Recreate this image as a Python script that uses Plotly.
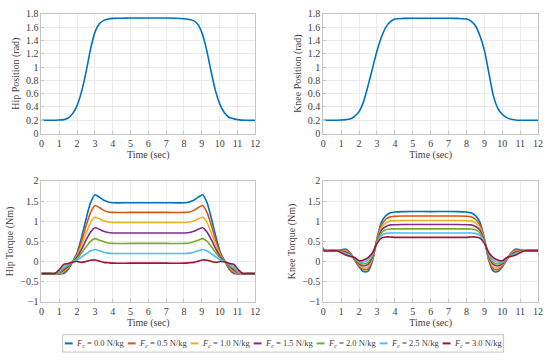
import plotly.graph_objects as go

# ---------------- data ----------------
t_pos = [0, 0.5, 1.0, 1.25, 1.5, 1.75, 2.0, 2.25, 2.5, 2.75, 3.0, 3.25, 3.5, 3.75, 4.0, 4.5, 5, 6, 7, 7.5,
         8.0, 8.25, 8.5, 8.75, 9.0, 9.25, 9.5, 9.75, 10.0, 10.25, 10.5, 10.75, 11.0, 11.5, 12]
hip_pos = [0.20, 0.20, 0.205, 0.21, 0.235, 0.30, 0.42, 0.63, 0.92, 1.26, 1.52, 1.65, 1.70, 1.72, 1.73, 1.733, 1.735, 1.735, 1.735, 1.733,
           1.725, 1.715, 1.70, 1.65, 1.52, 1.28, 0.96, 0.66, 0.45, 0.32, 0.25, 0.225, 0.21, 0.20, 0.20]
knee_pos = [0.20, 0.20, 0.205, 0.21, 0.22, 0.26, 0.33, 0.48, 0.72, 0.98, 1.24, 1.45, 1.60, 1.68, 1.72, 1.73, 1.733, 1.733, 1.733, 1.73,
            1.72, 1.69, 1.62, 1.47, 1.25, 0.91, 0.57, 0.38, 0.29, 0.24, 0.215, 0.205, 0.20, 0.20, 0.20]

force_labels = ["0.0", "0.5", "1.0", "1.5", "2.0", "2.5", "3.0"]
colors = ["#0072BD", "#D95319", "#EDB120", "#7E2F8E", "#77AC30", "#4DBEEE", "#A2142F"]

t_hip = [0, 0.5, 0.75, 1.0, 1.25, 1.5, 1.75, 2.0, 2.25, 2.5, 2.75, 3.0, 3.25, 3.5, 3.75, 4.0, 5.0, 6.0, 7.0,
         8.05, 8.3, 8.55, 8.8, 9.05, 9.3, 9.55, 9.8, 10.05, 10.3, 10.55, 10.8, 11.05, 11.3, 11.55, 12.0]
hip_torque = [
    [-0.30, -0.30, -0.30, -0.31, -0.30, -0.20, 0.00, 0.22, 0.60, 1.05, 1.45, 1.66, 1.60, 1.52, 1.48, 1.46, 1.46, 1.46, 1.46,
     1.46, 1.48, 1.52, 1.60, 1.66, 1.45, 1.05, 0.60, 0.22, 0.00, -0.20, -0.30, -0.31, -0.30, -0.30, -0.30],
    [-0.30, -0.30, -0.30, -0.30, -0.27, -0.17, 0.00, 0.18, 0.50, 0.88, 1.21, 1.39, 1.34, 1.27, 1.23, 1.22, 1.22, 1.22, 1.22,
     1.22, 1.23, 1.27, 1.34, 1.39, 1.21, 0.88, 0.50, 0.18, 0.00, -0.17, -0.27, -0.30, -0.30, -0.30, -0.30],
    [-0.30, -0.30, -0.30, -0.29, -0.24, -0.14, 0.00, 0.14, 0.40, 0.69, 0.96, 1.10, 1.06, 1.01, 0.98, 0.97, 0.97, 0.97, 0.97,
     0.97, 0.98, 1.01, 1.06, 1.10, 0.96, 0.69, 0.40, 0.14, 0.00, -0.14, -0.24, -0.29, -0.30, -0.30, -0.30],
    [-0.30, -0.30, -0.30, -0.28, -0.21, -0.12, 0.00, 0.11, 0.30, 0.53, 0.73, 0.84, 0.80, 0.75, 0.72, 0.71, 0.71, 0.71, 0.71,
     0.71, 0.72, 0.75, 0.80, 0.84, 0.73, 0.53, 0.30, 0.11, 0.00, -0.12, -0.21, -0.28, -0.30, -0.30, -0.30],
    [-0.30, -0.30, -0.30, -0.27, -0.17, -0.10, 0.00, 0.07, 0.21, 0.36, 0.50, 0.57, 0.53, 0.49, 0.46, 0.45, 0.45, 0.45, 0.45,
     0.45, 0.46, 0.49, 0.53, 0.57, 0.50, 0.36, 0.21, 0.07, 0.00, -0.10, -0.17, -0.27, -0.30, -0.30, -0.30],
    [-0.30, -0.30, -0.30, -0.25, -0.12, -0.07, 0.00, 0.04, 0.11, 0.19, 0.26, 0.30, 0.27, 0.23, 0.21, 0.20, 0.20, 0.20, 0.20,
     0.20, 0.21, 0.23, 0.27, 0.30, 0.26, 0.19, 0.11, 0.04, 0.00, -0.07, -0.12, -0.25, -0.30, -0.30, -0.30],
    [-0.30, -0.30, -0.30, -0.20, -0.07, -0.05, -0.01, 0.00, -0.02, 0.00, 0.03, 0.04, 0.01, -0.02, -0.03, -0.04, -0.04, -0.04, -0.04,
     -0.04, -0.03, -0.02, 0.01, 0.04, 0.03, 0.00, -0.02, 0.00, -0.01, -0.05, -0.07, -0.20, -0.30, -0.30, -0.30],
]

t_knee = [0, 0.05, 0.5, 0.75, 1.0, 1.25, 1.5, 1.75, 2.0, 2.25, 2.5, 2.75, 3.0, 3.25, 3.5, 3.75, 4.0, 4.5, 6.0, 7.5,
          8.0, 8.25, 8.5, 8.75, 9.0, 9.25, 9.5, 9.75, 10.0, 10.25, 10.5, 10.75, 11.0, 11.25, 11.5, 12.0]
knee_torque = [
    [0.27, 0.27, 0.27, 0.27, 0.29, 0.31, 0.22, 0.04, -0.13, -0.25, -0.24, 0.02, 0.57, 0.98, 1.14, 1.21, 1.23, 1.24, 1.24, 1.24,
     1.23, 1.21, 1.14, 0.98, 0.57, 0.02, -0.24, -0.25, -0.13, 0.04, 0.22, 0.31, 0.29, 0.27, 0.27, 0.27],
    [0.27, 0.27, 0.27, 0.27, 0.28, 0.29, 0.21, 0.05, -0.11, -0.20, -0.18, 0.05, 0.55, 0.91, 1.05, 1.11, 1.125, 1.13, 1.13, 1.13,
     1.125, 1.11, 1.05, 0.91, 0.55, 0.05, -0.18, -0.20, -0.11, 0.05, 0.21, 0.29, 0.28, 0.27, 0.27, 0.27],
    [0.27, 0.27, 0.27, 0.27, 0.27, 0.26, 0.19, 0.06, -0.08, -0.16, -0.13, 0.09, 0.53, 0.85, 0.96, 1.01, 1.015, 1.02, 1.02, 1.02,
     1.015, 1.01, 0.96, 0.85, 0.53, 0.09, -0.13, -0.16, -0.08, 0.06, 0.19, 0.26, 0.27, 0.27, 0.27, 0.27],
    [0.27, 0.27, 0.27, 0.27, 0.26, 0.24, 0.18, 0.07, -0.06, -0.11, -0.07, 0.12, 0.51, 0.78, 0.87, 0.91, 0.915, 0.92, 0.92, 0.92,
     0.915, 0.91, 0.87, 0.78, 0.51, 0.12, -0.07, -0.11, -0.06, 0.07, 0.18, 0.24, 0.26, 0.27, 0.27, 0.27],
    [0.27, 0.27, 0.27, 0.27, 0.25, 0.21, 0.16, 0.08, -0.03, -0.06, -0.02, 0.15, 0.49, 0.71, 0.79, 0.81, 0.81, 0.81, 0.81, 0.81,
     0.81, 0.81, 0.79, 0.71, 0.49, 0.15, -0.02, -0.06, -0.03, 0.08, 0.16, 0.21, 0.25, 0.27, 0.27, 0.27],
    [0.27, 0.27, 0.27, 0.27, 0.24, 0.19, 0.15, 0.09, 0.00, -0.01, 0.04, 0.19, 0.47, 0.65, 0.70, 0.71, 0.71, 0.71, 0.71, 0.71,
     0.71, 0.71, 0.70, 0.65, 0.47, 0.19, 0.04, -0.01, 0.00, 0.09, 0.15, 0.19, 0.24, 0.27, 0.27, 0.27],
    [0.35, 0.27, 0.27, 0.27, 0.22, 0.16, 0.13, 0.10, 0.02, 0.04, 0.10, 0.22, 0.45, 0.58, 0.61, 0.61, 0.60, 0.60, 0.60, 0.60,
     0.60, 0.61, 0.61, 0.58, 0.45, 0.22, 0.10, 0.04, 0.02, 0.10, 0.13, 0.16, 0.22, 0.27, 0.27, 0.27],
]

x_ticks = list(range(0, 13))
pos_ticks = [0, 0.2, 0.4, 0.6, 0.8, 1, 1.2, 1.4, 1.6, 1.8]
torque_ticks = [-1, -0.5, 0, 0.5, 1, 1.5, 2]

# ---------------- figure ----------------
W, H = 550, 361
FONT = "Liberation Serif, DejaVu Serif, serif"
TXT = "#404040"
fig = go.Figure()

def px_x(p):
    return p / W

def px_y(p):
    return 1 - p / H

dom_x = [[px_x(39), px_x(256)], [px_x(325), px_x(543)]]
dom_y = [[px_y(132), px_y(8)], [px_y(306), px_y(181)]]

panels = [
    ("x", "y", 0, 0, "Hip Position (rad)", [0, 1.8], pos_ticks),
    ("x2", "y2", 1, 0, "Knee Position (rad)", [0, 1.8], pos_ticks),
    ("x3", "y3", 0, 1, "Hip Torque (Nm)", [-1, 2], torque_ticks),
    ("x4", "y4", 1, 1, "Knee Torque (Nm)", [-1, 2], torque_ticks),
]

LW = 1.6
fig.add_trace(go.Scatter(x=t_pos, y=hip_pos, mode="lines", line=dict(color=colors[0], width=LW, shape="spline", smoothing=0.7),
                         xaxis="x", yaxis="y", showlegend=False))
fig.add_trace(go.Scatter(x=t_pos, y=knee_pos, mode="lines", line=dict(color=colors[0], width=LW, shape="spline", smoothing=0.7),
                         xaxis="x2", yaxis="y2", showlegend=False))
for i in range(len(force_labels)):
    fig.add_trace(go.Scatter(x=t_hip, y=hip_torque[i], mode="lines", name=force_labels[i],
                             line=dict(color=colors[i], width=LW, shape="spline", smoothing=0.7),
                             xaxis="x3", yaxis="y3", showlegend=False))
for i in range(len(force_labels)):
    fig.add_trace(go.Scatter(x=t_knee, y=knee_torque[i], mode="lines", name=force_labels[i],
                             line=dict(color=colors[i], width=LW, shape="spline", smoothing=0.7),
                             xaxis="x4", yaxis="y4", showlegend=False))

layout = dict(width=W, height=H, margin=dict(l=0, r=0, t=0, b=0),
              paper_bgcolor="white", plot_bgcolor="white", showlegend=False,
              font=dict(family=FONT, size=10, color=TXT))
for xa, ya, cx, ry, ytitle, yr, yt in panels:
    xkey = "xaxis" if xa == "x" else "xaxis" + xa[1:]
    ykey = "yaxis" if ya == "y" else "yaxis" + ya[1:]
    layout[xkey] = dict(domain=dom_x[cx], anchor=ya, range=[0, 12], tickmode="array", tickvals=x_ticks,
                        showgrid=True, gridcolor="#ebebeb", gridwidth=1, zeroline=False,
                        showline=True, linecolor="#c4c4c4", linewidth=1, mirror=True,
                        ticks="inside", ticklen=3, tickcolor="#c4c4c4", ticklabeloverflow="allow",
                        tickfont=dict(family=FONT, size=10, color=TXT),
                        title=dict(text="Time (sec)", font=dict(family=FONT, size=10, color=TXT), standoff=0))
    layout[ykey] = dict(domain=dom_y[ry], anchor=xa, range=yr, tickmode="array", tickvals=yt,
                        showgrid=True, gridcolor="#ebebeb", gridwidth=1, zeroline=False,
                        showline=True, linecolor="#c4c4c4", linewidth=1, mirror=True,
                        ticks="inside", ticklen=3, tickcolor="#c4c4c4", ticklabeloverflow="allow",
                        tickfont=dict(family=FONT, size=10, color=TXT),
                        title=dict(text=ytitle, font=dict(family=FONT, size=10, color=TXT), standoff=4))
fig.update_layout(**layout)

# custom legend (box, line samples and labels)
leg_y = 349
shapes = [dict(type="rect", xref="paper", yref="paper", x0=px_x(60.5), x1=px_x(508), y0=px_y(358), y1=px_y(340),
               line=dict(color="#c4c4c4", width=1), fillcolor="white", layer="above")]
annotations = []
for i, lab in enumerate(force_labels):
    x0 = 62.7 + i * 63.9
    shapes.append(dict(type="line", xref="paper", yref="paper", x0=px_x(x0), x1=px_x(x0 + 8),
                       y0=px_y(leg_y), y1=px_y(leg_y), line=dict(color=colors[i], width=2)))
    annotations.append(dict(xref="paper", yref="paper", x=px_x(x0 + 9.5), y=px_y(leg_y + 0.5),
                            xanchor="left", yanchor="middle", showarrow=False,
                            text="<i>F<sub>c</sub></i> = " + lab + " N/kg",
                            font=dict(family=FONT, size=8.5, color=TXT)))
fig.update_layout(shapes=shapes, annotations=annotations)

fig.write_html("out.html", config={"displayModeBar": False},
               post_script="document.body.style.margin='0px';document.body.style.padding='0px';document.body.style.overflow='hidden';")
